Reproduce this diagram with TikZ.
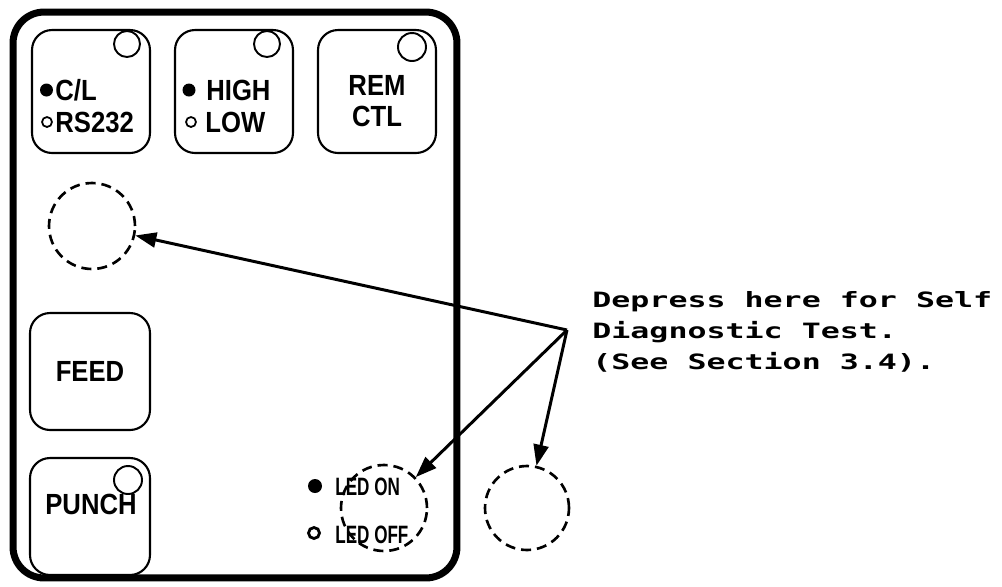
\documentclass[tikz,border=0pt]{standalone}
\usepackage{fontspec}
\usetikzlibrary{arrows.meta,positioning}
\newfontfamily\keyfont[FakeStretch=0.88]{Liberation Sans}
\newfontfamily\ledfont[FakeStretch=0.68]{Liberation Sans}
\newfontfamily\notefont[FakeStretch=1.5]{DejaVu Sans Mono}
\begin{document}
\begin{tikzpicture}[x=0.02cm, y=-0.02cm,
  panel/.style={draw, line width=4pt, rounded corners=0.62cm,
    minimum width=8.88cm, minimum height=11.32cm, inner sep=0pt},
  key/.style={draw, line width=1.2pt, rounded corners=0.4cm,
    minimum width=2.36cm, minimum height=2.46cm, inner sep=0pt},
  keytext/.style={inner sep=0pt,
    font=\keyfont\bfseries\fontsize{16.6pt}{17.6pt}\selectfont},
  ledtext/.style={inner sep=0pt, anchor=base west,
    font=\ledfont\bfseries\fontsize{14.3pt}{15pt}\selectfont},
  lamp/.style={draw, line width=1.1pt},
  target/.style={circle, draw, dashed, line width=1.5pt,
    dash pattern=on 5.7pt off 3.4pt, minimum size=1.72cm, inner sep=0pt},
  pointer/.style={-{Triangle[length=12pt,width=8.5pt]}, line width=1.7pt},
  note/.style={inner sep=0pt, align=left, anchor=north west,
    font=\notefont\bfseries\fontsize{12pt}{17.6pt}\selectfont}
]
\useasboundingbox (0,0) rectangle (1002,586);
% front panel
\node[panel] (panel) at (235,295) {};
% top row of keys
\node[key] (cl) at (91,91.5) {};
\node[key] (high) at (234,91.5) {};
\node[key] (rem) at (377,91.5) {};
\draw[lamp] (127,44) circle (13);
\draw[lamp] (267,44) circle (13);
\draw[lamp] (412,47) circle (14);
\fill (46.5,90) circle (6.5);
\draw[line width=1pt] (47,122) circle (5);
\node[keytext, anchor=base west] (cltxt) at (55,100) {C/L};
\node[keytext, anchor=base west] (rstxt) at (55,132) {RS232};
\fill (189,90) circle (6.5);
\draw[line width=1pt] (191,122) circle (5);
\node[keytext, anchor=base west] (hightxt) at (206,100) {HIGH};
\node[keytext, anchor=base west] (lowtxt) at (205,132) {LOW};
\node[keytext, align=center] (remtxt) at (377,101) {REM\\CTL};
% feed and punch
\node[key, keytext, minimum width=2.4cm, minimum height=2.34cm]
  (feed) at (90,371.5) {FEED};
\node[key, minimum width=2.4cm, minimum height=2.34cm] (punch) at (90,516.5) {};
\draw[lamp] (128,480) circle (14);
\node[keytext] (punchtxt) at (91,504) {PUNCH};
% led
\fill (315,486) circle (7);
\draw[line width=1.6pt] (314,533) circle (5.5);
\node[ledtext] (ledon) at (335,495) {LED ON};
\node[ledtext] (ledoff) at (335,543) {LED OFF};
% self test spots
\node[target] (selfA) at (92,226) {};
\node[target] (selfB) at (384,508) {};
\node[target, minimum size=1.68cm] (selfC) at (527,508) {};
\coordinate (src) at (567,330);
\node[note] (hint) at (592,291)
  {Depress here for Self\\Diagnostic Test.\\(See Section 3.4).};
\draw[pointer] (src) -- (selfA);
\draw[pointer] (src) -- (selfB);
\draw[pointer] (src) -- (selfC);
\end{tikzpicture}
\end{document}
